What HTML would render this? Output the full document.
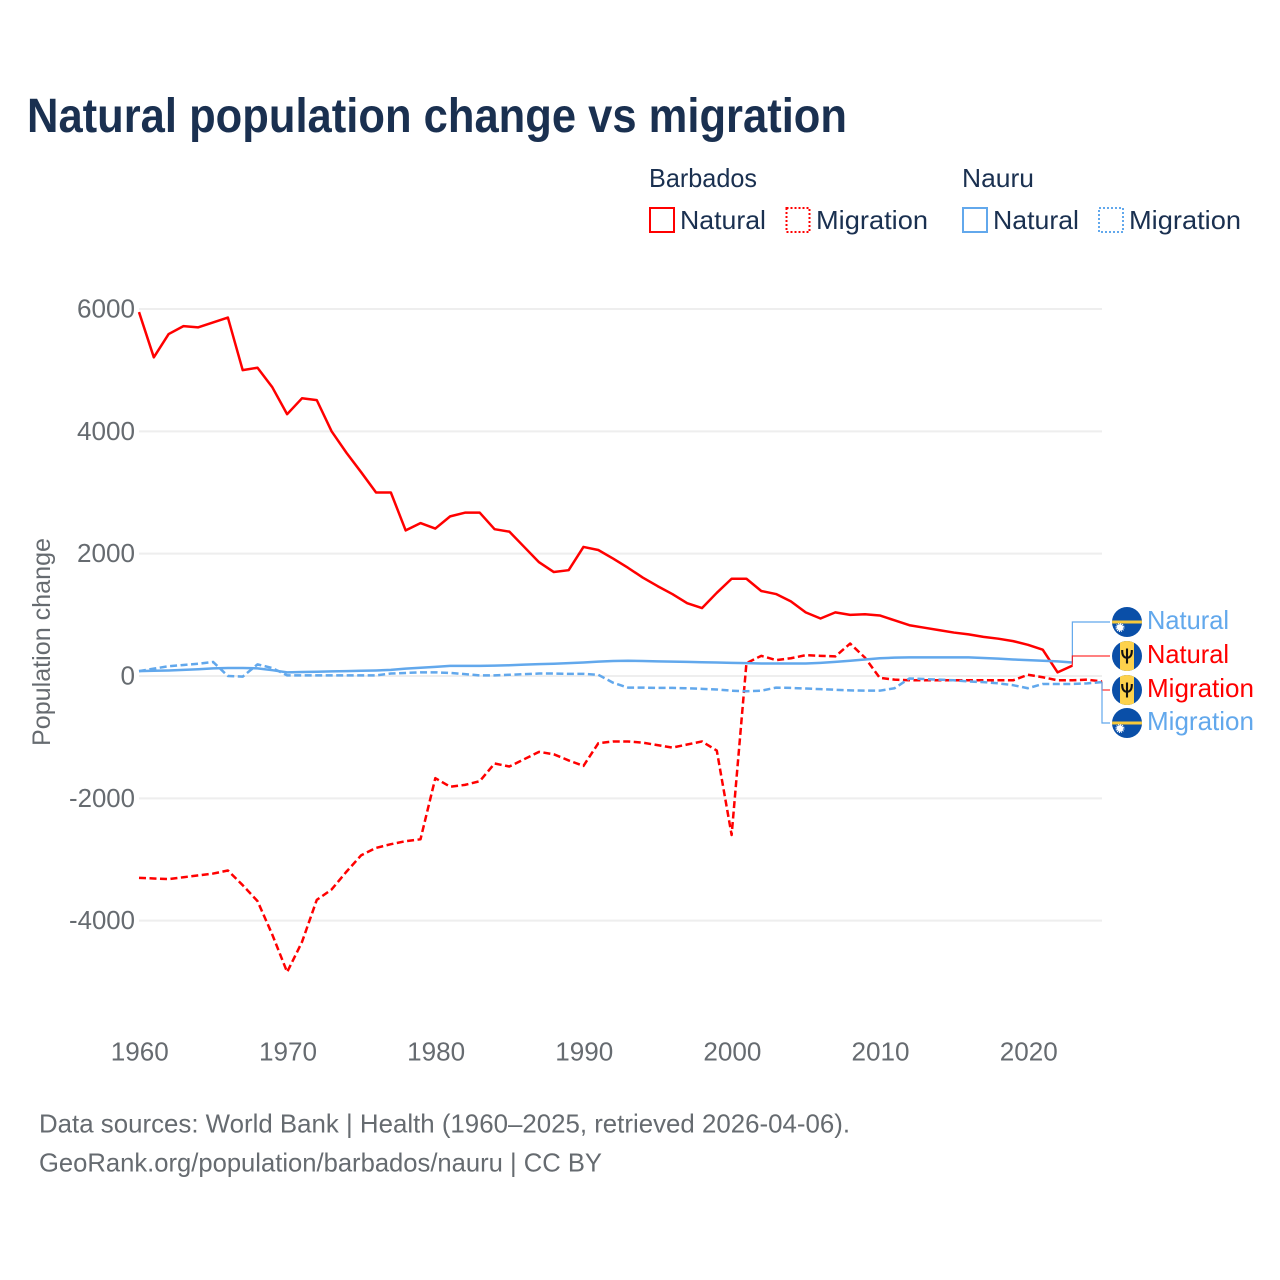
<!DOCTYPE html>
<html lang="en">
<head>
<meta charset="utf-8">
<title>Natural population change vs migration</title>
<style>
html,body{margin:0;padding:0;background:#fff;width:1280px;height:1280px;overflow:hidden}
svg{display:block}
text{font-family:"Liberation Sans",sans-serif}
</style>
</head>
<body>
<svg id="chart" xmlns="http://www.w3.org/2000/svg" width="1280" height="1280" viewBox="0 0 1280 1280">
  <defs>
    <clipPath id="flag-clip"><circle cx="0" cy="0" r="15"/></clipPath>
    <g id="flag-nauru">
      <g clip-path="url(#flag-clip)">
        <rect x="-15" y="-15" width="30" height="30" fill="#0a4fa8"/>
        <rect x="-15" y="-1.500" width="30" height="3" fill="#f6c93c"/>
        <circle cx="-7" cy="5.500" r="3.200" fill="#fff"/>
        <circle cx="-7" cy="5.500" r="3.800" fill="none" stroke="#fff" stroke-width="1.400" stroke-dasharray="1 1"/>
      </g>
    </g>
    <g id="flag-barbados">
      <g clip-path="url(#flag-clip)">
        <rect x="-15" y="-15" width="30" height="30" fill="#0a4fa8"/>
        <rect x="-7" y="-15" width="14" height="30" fill="#fdd24c"/>
        <path d="M0 -7.500V7.500M-4.800 -6C-5 -0.500 -3 1.800 0 1.800C3 1.800 5 -0.500 4.800 -6" fill="none" stroke="#111" stroke-width="2.100"/>
      </g>
    </g>
  </defs>

  <text x="27" y="132" font-size="48" font-weight="700" fill="#1a3050" textLength="820" lengthAdjust="spacingAndGlyphs">Natural population change vs migration</text>

  <g font-size="26" fill="#1a3050">
    <text x="649" y="187" textLength="108" lengthAdjust="spacingAndGlyphs">Barbados</text>
    <text x="962" y="187" textLength="72" lengthAdjust="spacingAndGlyphs">Nauru</text>

    <rect x="650" y="208" width="24" height="24" fill="none" stroke="#ff0000" stroke-width="2"/>
    <text x="680" y="229" textLength="86" lengthAdjust="spacingAndGlyphs">Natural</text>
    <rect x="786.500" y="208" width="23" height="24" fill="none" stroke="#ff0000" stroke-width="2" stroke-dasharray="2 2"/>
    <text x="816" y="229" textLength="112" lengthAdjust="spacingAndGlyphs">Migration</text>

    <rect x="963" y="208" width="24" height="24" fill="none" stroke="#62a8ec" stroke-width="2"/>
    <text x="993" y="229" textLength="86" lengthAdjust="spacingAndGlyphs">Natural</text>
    <rect x="1099" y="208" width="24" height="24" fill="none" stroke="#62a8ec" stroke-width="2" stroke-dasharray="2 2"/>
    <text x="1129" y="229" textLength="112" lengthAdjust="spacingAndGlyphs">Migration</text>
  </g>

  <g id="grid"></g>
  <g id="y-axis"></g>
  <g id="x-axis"></g>

  <text transform="translate(50,642) rotate(-90)" text-anchor="middle" font-size="25" fill="#666b70" textLength="208" lengthAdjust="spacingAndGlyphs">Population change</text>

  <g id="series"></g>
  <g id="connectors"></g>

  <g font-size="26">
    <use href="#flag-nauru" x="1127" y="622"/>
    <text x="1147" y="629" fill="#62a8ec" textLength="82" lengthAdjust="spacingAndGlyphs">Natural</text>
    <use href="#flag-barbados" x="1127" y="656"/>
    <text x="1147" y="663" fill="#ff0000" textLength="82" lengthAdjust="spacingAndGlyphs">Natural</text>
    <use href="#flag-barbados" x="1127" y="690"/>
    <text x="1147" y="697" fill="#ff0000" textLength="107" lengthAdjust="spacingAndGlyphs">Migration</text>
    <use href="#flag-nauru" x="1127" y="723"/>
    <text x="1147" y="730" fill="#62a8ec" textLength="107" lengthAdjust="spacingAndGlyphs">Migration</text>
  </g>

  <g font-size="26" fill="#666b70">
    <text x="39" y="1132.500" textLength="811" lengthAdjust="spacingAndGlyphs">Data sources: World Bank | Health (1960–2025, retrieved 2026-04-06).</text>
    <text x="39" y="1171.500" textLength="563" lengthAdjust="spacingAndGlyphs">GeoRank.org/population/barbados/nauru | CC BY</text>
  </g>
</svg>

<script>
const startYear = 1960;
const xTickLabels = [1960, 1970, 1980, 1990, 2000, 2010, 2020];
const yTickLabels = [6000, 4000, 2000, 0, -2000, -4000];

const barbadosNatural = [
  5950,5210,5590,5720,5700,5780,5860,5000,5040,4720,
  4280,4540,4510,4000,3650,3330,3000,3000,2380,2500,
  2410,2610,2670,2670,2400,2360,2110,1860,1700,1730,
  2110,2060,1920,1770,1610,1470,1340,1190,1110,1360,
  1590,1590,1390,1340,1220,1040,940,1040,1000,1010,
  990,910,830,790,750,710,680,640,610,570,
  510,430,60,170
];
const barbadosMigration = [
  -3300,-3310,-3320,-3290,-3260,-3230,-3180,-3420,-3680,-4230,
  -4840,-4350,-3660,-3490,-3200,-2930,-2810,-2750,-2700,-2670,
  -1670,-1810,-1780,-1720,-1430,-1480,-1360,-1240,-1280,-1380,
  -1470,-1100,-1070,-1070,-1090,-1130,-1170,-1120,-1070,-1220,
  -2600,210,330,260,290,340,330,320,530,300,
  -30,-60,-70,-70,-70,-70,-70,-70,-70,-70,
  20,-20,-70,-70,-60,-90
];
const nauruNatural = [
  80,85,90,100,110,125,130,130,125,95,
  60,65,70,75,80,85,90,100,120,135,
  150,165,165,165,170,175,185,195,200,210,
  220,235,245,250,245,240,235,230,225,220,
  215,210,205,205,205,205,215,230,250,270,
  290,300,305,305,305,305,305,295,285,270,
  260,250,240,220
];
const nauruMigration = [
  80,120,160,180,200,230,0,-10,190,130,
  10,10,10,10,10,10,10,40,50,60,
  60,50,30,10,10,20,30,40,40,35,
  35,20,-110,-190,-190,-195,-195,-200,-210,-220,
  -240,-250,-240,-190,-195,-205,-215,-225,-235,-240,
  -240,-200,-40,-50,-60,-70,-90,-100,-120,-150,
  -200,-130,-130,-130,-120,-100
];

const SVG_NS = 'http://www.w3.org/2000/svg';
const RED = '#ff0000';
const BLUE = '#62a8ec';
const xScale = function (year) { return 139 + (year - 1960) * (1102 - 139) / 65; };
const yScale = function (value) { return 676 - value * (676 - 309) / 6000; };

function make(tag, attrs) {
  const el = document.createElementNS(SVG_NS, tag);
  Object.keys(attrs).forEach(function (k) { el.setAttribute(k, attrs[k]); });
  return el;
}
function linePath(values) {
  return values.map(function (v, i) {
    return (i ? 'L' : 'M') + xScale(startYear + i).toFixed(2) + ' ' + yScale(v).toFixed(2);
  }).join('');
}

const grid = document.getElementById('grid');
const yAxis = document.getElementById('y-axis');
const xAxis = document.getElementById('x-axis');
const seriesGroup = document.getElementById('series');
const connectors = document.getElementById('connectors');

yTickLabels.forEach(function (t) {
  const line = make('line', { x1: 139, x2: 1102, y1: yScale(t), y2: yScale(t), stroke: '#eeeeee', 'stroke-width': 2 });
  
  
  grid.appendChild(line);
  const digits = String(Math.abs(t)).length;
  const label = make('text', { x: 135, y: yScale(t) + 8.5, 'text-anchor': 'end', 'font-size': 26, fill: '#666b70', textLength: digits * 14.5 + (t < 0 ? 8 : 0), lengthAdjust: 'spacingAndGlyphs' });
  
  
  label.textContent = t;
  yAxis.appendChild(label);
});

xTickLabels.forEach(function (t) {
  const label = make('text', { x: xScale(t) + 0.8, y: 1060.5, 'text-anchor': 'middle', 'font-size': 26, fill: '#666b70', textLength: 58, lengthAdjust: 'spacingAndGlyphs' });
  
  
  label.textContent = t;
  xAxis.appendChild(label);
});

const barbadosMigrationLine = make('path', { d: linePath(barbadosMigration), fill: 'none', stroke: RED, 'stroke-width': 2.5, 'stroke-dasharray': '7 3.5', 'stroke-linejoin': 'round' });


seriesGroup.appendChild(barbadosMigrationLine);

const nauruMigrationLine = make('path', { d: linePath(nauruMigration), fill: 'none', stroke: BLUE, 'stroke-width': 2.5, 'stroke-dasharray': '7 3.5', 'stroke-linejoin': 'round' });


seriesGroup.appendChild(nauruMigrationLine);

const barbadosNaturalLine = make('path', { d: linePath(barbadosNatural), fill: 'none', stroke: RED, 'stroke-width': 2.5, 'stroke-linejoin': 'round' });


seriesGroup.appendChild(barbadosNaturalLine);

const nauruNaturalLine = make('path', { d: linePath(nauruNatural), fill: 'none', stroke: BLUE, 'stroke-width': 2.5, 'stroke-linejoin': 'round' });


seriesGroup.appendChild(nauruNaturalLine);

function connectorPath(values, labelY) {
  const last = values.length - 1;
  const x = xScale(startYear + last);
  return 'M' + x + ' ' + yScale(values[last]) + 'V' + labelY + 'H1110';
}

const connectorNauruNatural = make('path', { d: connectorPath(nauruNatural, 622), fill: 'none', stroke: BLUE, 'stroke-width': 1.2 });


connectors.appendChild(connectorNauruNatural);

const connectorBarbadosNatural = make('path', { d: connectorPath(barbadosNatural, 656), fill: 'none', stroke: RED, 'stroke-width': 1.2, 'stroke-opacity': 0.8 });


connectors.appendChild(connectorBarbadosNatural);

const connectorBarbadosMigration = make('path', { d: connectorPath(barbadosMigration, 690), fill: 'none', stroke: RED, 'stroke-width': 1.2, 'stroke-opacity': 0.8 });


connectors.appendChild(connectorBarbadosMigration);

const connectorNauruMigration = make('path', { d: connectorPath(nauruMigration, 723), fill: 'none', stroke: BLUE, 'stroke-width': 1.2 });


connectors.appendChild(connectorNauruMigration);
</script>
</body>
</html>
